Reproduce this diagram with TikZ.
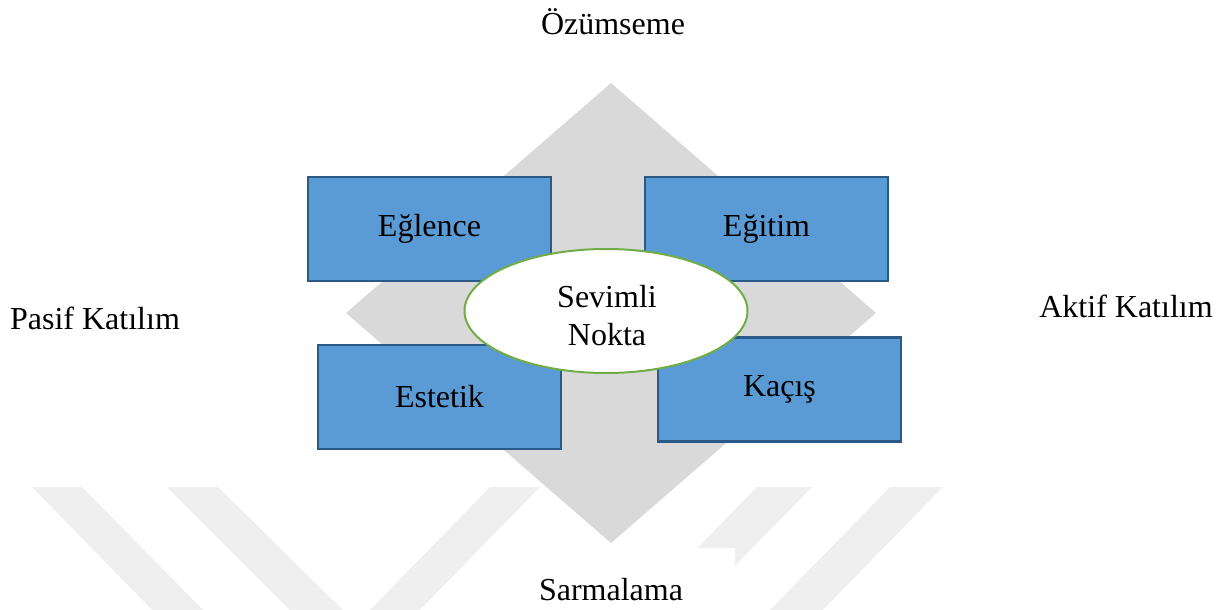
\documentclass[tikz,border=0pt]{standalone}
\usepackage{fontspec}
\setmainfont{Liberation Serif}
\usetikzlibrary{shapes.geometric}
\definecolor{boxfill}{HTML}{5B9BD5}
\definecolor{boxline}{HTML}{2C5A88}
\definecolor{ringline}{HTML}{70AD47}
\definecolor{diamondgray}{HTML}{D9D9D9}
\definecolor{markgray}{HTML}{EFEFEF}
\begin{document}
\begin{tikzpicture}[x=0.5pt,y=-0.5pt,
  stagebox/.style={draw=boxline, fill=boxfill, line width=1.1pt,
    minimum width=121.5pt, minimum height=52pt, inner sep=0pt,
    font=\fontsize{16}{19}\selectfont},
  axislabel/.style={inner sep=0pt, font=\fontsize{16}{19}\selectfont},
  core/.style={ellipse, draw=ringline, fill=white, line width=1pt,
    minimum width=141.5pt, minimum height=62pt, inner sep=0pt},
  coretext/.style={inner sep=0pt, align=center,
    font=\fontsize{16}{19}\selectfont}]
  \useasboundingbox (0,0) rectangle (1232,610);

  % faint diagonal bands in the background
  \begin{scope}
    \clip (0,0) rectangle (1232,610);
    \fill[markgray] (32,487) -- (82,487) -- (208,615) -- (157,615) -- cycle;
    \fill[markgray] (167,487) -- (218,487) -- (348,615) -- (295,615) -- cycle;
    \fill[markgray] (490,487) -- (540,487) -- (415,615) -- (365,615) -- cycle;
    \fill[markgray] (757,487) -- (812,487) -- (687,615) -- (632,615) -- cycle;
    \fill[markgray] (890,487) -- (943,487) -- (818,615) -- (765,615) -- cycle;
  \end{scope}

  % central grey diamond
  \fill[diamondgray] (611,83) -- (876,313) -- (611,543) -- (346,313) -- cycle;

  % clear area behind the bottom label
  \fill[white] (555,548) rectangle (735,612);

  % axis labels
  \node[axislabel] (top)    at (613,22)  {Özümseme};
  \node[axislabel] (bottom) at (611,590) {Sarmalama};
  \node[axislabel] (left)   at (95,318)  {Pasif Katılım};
  \node[axislabel] (right)  at (1126,306) {Aktif Katılım};

  % four experience areas
  \node[stagebox] (eglence) at (429.5,229) {Eğlence};
  \node[stagebox] (egitim)  at (766.5,229) {Eğitim};
  \node[stagebox] (estetik) at (439.5,397) {Estetik};
  \node[stagebox] (kacis)   at (779.5,389.5) {Kaçış};

  % centre
  \node[core] (nokta) at (606,311) {};
  \node[coretext] (noktatext) at (607,316) {Sevimli\\Nokta};
\end{tikzpicture}
\end{document}
